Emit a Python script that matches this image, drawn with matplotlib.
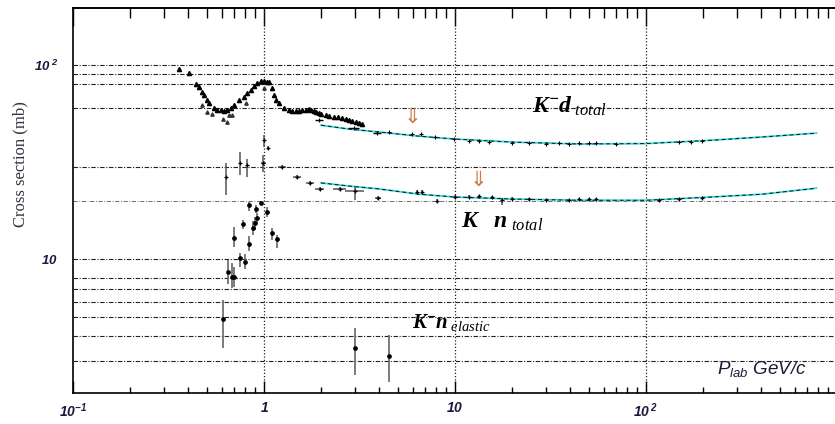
import matplotlib
matplotlib.use('Agg')
import matplotlib.pyplot as plt
from matplotlib.ticker import NullFormatter, NullLocator, FixedLocator, LogLocator

plt.rcParams['mathtext.fontset'] = 'custom'
plt.rcParams['mathtext.rm'] = 'Liberation Serif'
plt.rcParams['mathtext.it'] = 'Liberation Serif:italic'
plt.rcParams['mathtext.bf'] = 'Liberation Serif:italic:bold'
plt.rcParams['mathtext.sf'] = 'Liberation Sans:italic'
plt.rcParams['mathtext.tt'] = 'Liberation Sans:italic:bold'

# ---------------- data ----------------
# K- d total, low-energy data (triangles)
kd_low_x = [0.359, 0.405, 0.440, 0.457, 0.473, 0.485, 0.503, 0.515, 0.547, 0.568,
            0.596, 0.617, 0.640, 0.671, 0.697, 0.740, 0.786, 0.815, 0.855, 0.887,
            0.919, 0.964, 1.0, 1.037, 1.062, 1.101, 1.128, 1.156, 1.199, 1.273,
            1.352, 1.40, 1.471, 1.52, 1.581, 1.65, 1.720, 1.77, 1.827, 1.88,
            1.941, 2.0, 2.11, 2.2, 2.32, 2.45, 2.56, 2.68, 2.79, 2.9, 3.03, 3.15, 3.26]
kd_low_y = [95.3, 91.0, 79.8, 77.1, 72.6, 70.0, 66.0, 63.7, 60.0, 58.6,
            58.6, 58.0, 58.6, 60.0, 62.2, 66.0, 68.4, 71.8, 74.3, 77.9,
            80.7, 82.7, 82.7, 81.7, 81.7, 76.1, 70.0, 66.0, 63.7, 60.0,
            58.6, 58.3, 58.0, 58.2, 58.6, 59.0, 59.3, 58.8, 58.0, 57.3,
            56.6, 56.0, 55.2, 54.6, 54.0, 53.7, 53.3, 52.7, 52.1, 51.5, 50.8, 50.2, 49.6]
kd_scat_x = [0.473, 0.503, 0.534, 0.610, 0.640, 0.656, 0.680, 0.805, 1.0]
kd_scat_y = [62.2, 57.3, 55.9, 52.7, 50.8, 55.2, 55.2, 63.7, 76.1]

# K- d total, higher-energy data points
kd_hi_x = [1.94, 2.96, 3.9, 4.5, 5.95, 6.6, 7.9, 9.9, 11.8, 13.4, 15.1, 19.9,
           24.4, 29.9, 35.0, 39.5, 44.6, 50.3, 54.7, 69.9, 149, 171, 196]
kd_hi_y = [52.1, 47.3, 44.6, 45.2, 44.1, 44.1, 42.6, 41.6, 40.8, 40.5, 40.1, 39.9,
           39.7, 39.4, 39.7, 39.4, 39.7, 39.7, 39.9, 39.2, 40.1, 40.1, 40.4]
kd_hi_xerr = [0.10, 0.20, 0.20, 0, 0, 0, 0, 0, 0, 0, 0, 0,
              0, 0, 0, 0, 0, 0, 0, 0, 0, 0, 0]

# fits (K- d total and K- n total)
fit_x = [1.99, 2.79, 4.0, 6.5, 9.9, 19.9, 44.6, 100, 221, 405, 780]
kd_fit_y = [49.0, 46.8, 45.2, 43.0, 41.6, 40.1, 39.2, 39.4, 41.0, 42.6, 44.6]
kn_fit_y = [24.7, 23.8, 23.0, 21.6, 20.9, 20.4, 20.1, 20.1, 20.9, 21.6, 23.2]

# K- n total data
kn_x = [0.63, 0.75, 0.81, 0.99, 1.00, 1.05, 1.24, 1.49, 1.74, 1.96, 2.5, 3.0,
        3.95, 6.3, 6.7, 8.05, 10.0, 11.8, 13.4, 15.6, 17.6, 19.9, 24.4, 29.9,
        39.5, 44.6, 50.3, 54.7, 117, 149, 196]
kn_y = [26.5, 31.3, 30.5, 31.3, 41.0, 37.3, 29.8, 26.5, 24.7, 23.0, 23.0, 22.4,
        20.6, 22.1, 22.1, 19.9, 20.9, 21.0, 21.2, 20.9, 20.1, 20.5, 20.3, 20.2,
        20.1, 20.3, 20.4, 20.4, 20.2, 20.3, 20.7]
kn_lo = [5.1, 4.2, 4.0, 3.3, 3.2, 0.8, 0.6, 0.5, 0.5, 0.5, 0.6, 2.3,
         0.5, 0.5, 0.5, 0.5, 0.5, 0.3, 0.3, 0.3, 1.0, 0.3, 0.3, 0.3,
         0.3, 0.3, 0.3, 0.3, 0.3, 0.3, 0.3]
kn_hi = [4.8, 4.3, 2.5, 3.1, 2.5, 0.8, 0.6, 0.5, 0.5, 0.5, 0.6, 1.5,
         0.5, 0.5, 0.5, 0.5, 0.5, 0.3, 0.3, 0.3, 0.6, 0.3, 0.3, 0.3,
         0.3, 0.3, 0.3, 0.3, 0.3, 0.3, 0.3]
kn_xerr = [0, 0, 0, 0.03, 0, 0, 0.06, 0.07, 0.08, 0.10, 0.20, 0.33,
           0.15, 0, 0, 0, 0, 0, 0, 0, 0, 0, 0, 0,
           0, 0, 0, 0, 0, 0, 0]

# K- n elastic data
el_x = [0.61, 0.65, 0.68, 0.70, 0.70, 0.75, 0.78, 0.80, 0.83, 0.83, 0.875, 0.90,
        0.91, 0.92, 0.96, 1.04, 1.10, 1.17, 2.99, 4.5]
el_y = [4.9, 8.6, 8.1, 8.1, 12.9, 10.1, 15.1, 9.7, 12.0, 19.0, 14.5, 15.3,
        18.1, 16.3, 19.5, 17.5, 13.6, 12.7, 3.47, 3.16]
el_lo = [1.4, 1.2, 1.0, 0.9, 1.4, 1.0, 0.8, 0.8, 1.0, 1.2, 1.2, 1.2,
         0.8, 1.0, 0.5, 1.0, 1.0, 1.3, 0.95, 0.84]
el_hi = [1.25, 1.3, 1.4, 1.0, 1.7, 0.7, 0.8, 0.9, 1.2, 0.7, 1.2, 1.2,
         0.8, 1.0, 0.5, 1.1, 0.9, 0.6, 0.93, 0.89]

# threshold arrows
arrow_x = [5.96, 13.2]
arrow_y = [54.0, 25.5]

# gridlines and ticks
grid_y = [3, 4, 5, 6, 7, 8, 10, 30, 60, 80, 90, 100]
grid_y_light = [20]
grid_x = [1, 10, 100]
x_ticks = [0.1, 1, 10, 100]
x_tick_labels = [r'$\mathtt{10^{-1}}$', r'$\mathtt{1}$', r'$\mathtt{10}$', r'$\mathtt{10^{\ 2}}$']
y_ticks = [10, 100]
y_tick_labels = [r'$\mathtt{10}$', r'$\mathtt{10^{\ 2}}$']

# ---------------- figure ----------------
fig = plt.figure(figsize=(8.35, 4.24), dpi=100)
ax = fig.add_axes([73/835, 1-393/424, 764/835, 385/424])
ax.set_xscale('log')
ax.set_yscale('log')
ax.set_xlim(0.1, 1000)
ax.set_ylim(2.04, 197)

for gy in grid_y:
    ax.axhline(gy, color='#222222', lw=0.8, ls=(0, (4, 1.5, 1, 1.5)), zorder=1)
for gy in grid_y_light:
    ax.axhline(gy, color='#555555', lw=0.6, ls=(0, (5, 2, 1, 2)), zorder=1)
for gx in grid_x:
    ax.axvline(gx, color='#222222', lw=0.9, ls=(0, (1, 1.6)), zorder=1)

# K- d low energy
ax.plot(kd_low_x, kd_low_y, ls='none', marker='^', ms=3.0, color='black', zorder=4)
ax.plot(kd_scat_x, kd_scat_y, ls='none', marker='^', ms=2.4, color='#333333', zorder=4)

# fits
ax.plot(fit_x, kd_fit_y, color='#30d8e0', lw=1.3, zorder=3)
ax.plot(fit_x, kd_fit_y, color='#111111', lw=0.7, ls=(0, (4, 3)), zorder=3)
ax.plot(fit_x, kn_fit_y, color='#30d8e0', lw=1.3, zorder=3)
ax.plot(fit_x, kn_fit_y, color='#111111', lw=0.7, ls=(0, (4, 3)), zorder=3)

# K- d higher energy points
ax.errorbar(kd_hi_x, kd_hi_y, xerr=kd_hi_xerr, fmt='+', ms=3.5, mew=0.8,
            color='black', elinewidth=1.0, capsize=0, zorder=5)

# K- n total
ax.errorbar(kn_x, kn_y, yerr=[kn_lo, kn_hi], xerr=kn_xerr, fmt='+', ms=3.5, mew=0.9,
            color='black', ecolor='#555555', elinewidth=1.1, capsize=0, zorder=5)

# K- n elastic
ax.errorbar(el_x, el_y, yerr=[el_lo, el_hi], fmt='o', ms=2.4,
            color='black', ecolor='#666666', elinewidth=1.2, capsize=0, zorder=5)

# threshold arrows
for axx, axy in zip(arrow_x, arrow_y):
    ax.text(axx, axy, '\u21d3', color='#d07a50', fontsize=15, ha='center', va='center',
            family='DejaVu Sans', zorder=6)

# labels on the plot
ax.text(25.3, 56.6, r'$\mathbf{K^{-}d}_{\ \mathit{total}}$', fontsize=17, ha='left', va='baseline', color='black')
ax.text(10.75, 14.6, r'$\mathbf{K}\quad\mathbf{n}_{\ \mathit{total}}$', fontsize=17, ha='left', va='baseline', color='black')
ax.text(5.96, 4.4, r'$\mathbf{K^{-}n}_{\ \mathit{elastic}}$', fontsize=15, ha='left', va='baseline', color='black')
ax.text(235, 2.55, r'$\mathsf{P_{lab}}$ GeV/c', fontsize=13.5, ha='left', va='baseline',
        color='#1a1a3a', family='Liberation Sans', style='italic')

fig.text(20/835, 1-164/424, 'Cross section (mb)', family='Liberation Serif', fontsize=12,
         color='#333340', rotation=90, ha='center', va='center')

# ticks
ax.set_xticks(x_ticks)
ax.set_xticklabels(x_tick_labels, fontsize=10, color='#1a1a40')
ax.xaxis.set_minor_locator(LogLocator(base=10, subs=[2, 3, 4, 5, 6, 7, 8, 9]))
ax.xaxis.set_minor_formatter(NullFormatter())
ax.tick_params(axis='x', which='major', direction='in', length=9, width=1.0, pad=6, top=False)
ax.tick_params(axis='x', which='minor', direction='in', length=4.5, width=1.0, top=False)

ax.set_yticks(y_ticks)
ax.set_yticklabels(y_tick_labels, fontsize=9.5, color='#1a1a40')
ax.yaxis.set_minor_locator(NullLocator())
ax.tick_params(axis='y', which='major', length=0, pad=11)

sec = ax.secondary_xaxis('top')
sec.xaxis.set_major_locator(FixedLocator(x_ticks + [1000]))
sec.xaxis.set_minor_locator(LogLocator(base=10, subs=[2, 3, 4, 5, 6, 7, 8, 9]))
sec.xaxis.set_major_formatter(NullFormatter())
sec.xaxis.set_minor_formatter(NullFormatter())
sec.tick_params(axis='x', which='major', direction='in', length=13, width=1.0)
sec.tick_params(axis='x', which='minor', direction='in', length=7, width=1.0)
sec.spines['top'].set_linewidth(1.2)

for side in ['left', 'bottom', 'top']:
    ax.spines[side].set_linewidth(1.2)
ax.spines['right'].set_visible(False)

fig.savefig('out.png', dpi=100)
